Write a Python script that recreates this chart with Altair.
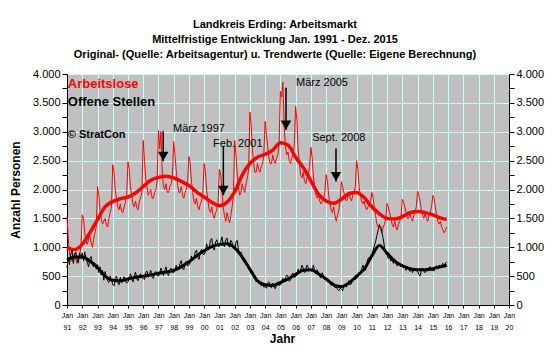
import altair as alt
import pandas as pd

YEARS = list(range(1991, 2016))
MONTHS = list(range(1, 13))

# Arbeitslose, original monthly values (one row per year, Jan..Dec)
AL_ORIG = [
    [1530, 1150, 900, 820, 760, 850, 900, 780, 720, 820, 880, 1000],
    [1560, 1500, 1250, 1100, 1050, 1150, 1200, 1080, 1000, 1150, 1250, 1350],
    [2050, 1900, 1650, 1500, 1400, 1450, 1500, 1380, 1350, 1500, 1600, 1700],
    [2430, 2300, 2000, 1850, 1700, 1650, 1750, 1620, 1600, 1700, 1780, 1900],
    [2480, 2350, 2050, 1900, 1750, 1700, 1800, 1680, 1650, 1800, 1850, 1950],
    [2850, 2500, 2200, 2050, 1900, 1950, 2000, 1850, 1850, 1950, 2000, 2150],
    [3020, 2700, 3000, 2300, 2050, 2000, 2100, 1950, 1950, 2050, 2100, 2250],
    [2830, 2600, 2350, 2100, 1950, 1950, 2050, 1900, 1850, 1950, 2000, 2150],
    [2570, 2450, 2150, 1950, 1800, 1750, 1850, 1700, 1650, 1750, 1800, 1950],
    [2450, 2300, 2000, 1800, 1650, 1600, 1700, 1550, 1500, 1600, 1650, 1800],
    [2350, 2250, 2000, 1700, 1550, 1450, 1600, 1500, 1420, 1550, 1700, 1900],
    [2850, 2600, 2300, 2050, 1900, 1950, 2100, 2000, 1950, 2100, 2200, 2350],
    [3340, 3100, 2700, 2450, 2300, 2300, 2450, 2350, 2300, 2400, 2450, 2600],
    [3180, 2950, 2750, 2550, 2450, 2450, 2600, 2500, 2450, 2550, 2600, 2800],
    [3700, 3600, 3860, 3100, 2750, 2600, 2650, 2500, 2450, 2550, 2600, 2800],
    [3440, 3200, 2700, 2450, 2250, 2200, 2300, 2150, 2100, 2200, 2250, 2400],
    [2730, 2550, 2250, 2050, 1900, 1850, 1900, 1800, 1750, 1800, 1850, 1950],
    [2260, 2150, 1900, 1750, 1650, 1600, 1700, 1550, 1450, 1550, 1650, 1800],
    [2140, 2050, 1950, 1850, 1800, 1850, 1950, 1850, 1800, 1900, 1950, 2050],
    [2500, 2350, 2050, 1900, 1800, 1750, 1800, 1700, 1650, 1700, 1750, 1800],
    [1950, 1850, 1700, 1550, 1400, 1350, 1400, 1300, 1250, 1350, 1400, 1500],
    [1760, 1700, 1600, 1500, 1400, 1350, 1450, 1350, 1300, 1400, 1450, 1550],
    [1830, 1780, 1700, 1600, 1500, 1500, 1600, 1500, 1450, 1550, 1600, 1700],
    [1970, 1900, 1800, 1650, 1550, 1500, 1600, 1500, 1450, 1550, 1600, 1700],
    [1900, 1850, 1700, 1550, 1450, 1400, 1450, 1350, 1300, 1250, 1300, 1350],
]

# Offene Stellen, original monthly values
OS_ORIG = [
    [650, 820, 700, 880, 950, 720, 860, 920, 780, 730, 900, 800],
    [900, 760, 920, 800, 740, 660, 800, 840, 700, 660, 720, 620],
    [700, 560, 660, 520, 600, 430, 580, 470, 420, 390, 500, 430],
    [360, 330, 460, 500, 400, 350, 480, 380, 450, 490, 410, 380],
    [400, 450, 540, 470, 400, 500, 570, 450, 420, 520, 540, 470],
    [460, 440, 560, 590, 480, 540, 600, 490, 460, 560, 580, 510],
    [500, 540, 640, 580, 510, 600, 660, 540, 510, 610, 640, 560],
    [560, 600, 690, 620, 620, 720, 770, 640, 610, 730, 760, 680],
    [690, 740, 850, 770, 800, 920, 950, 830, 790, 920, 960, 880],
    [870, 930, 1060, 950, 980, 1120, 1150, 1000, 950, 1090, 1130, 1010],
    [1020, 1100, 1180, 1060, 1010, 1130, 1160, 1040, 1000, 1120, 1080, 980],
    [960, 1090, 1120, 970, 880, 920, 830, 760, 790, 690, 700, 620],
    [640, 540, 580, 470, 490, 400, 440, 370, 400, 330, 360, 310],
    [320, 290, 380, 400, 320, 300, 380, 310, 280, 370, 400, 340],
    [350, 380, 460, 410, 470, 520, 490, 410, 440, 530, 550, 480],
    [490, 540, 620, 550, 610, 690, 640, 560, 620, 690, 650, 590],
    [600, 580, 690, 610, 540, 610, 560, 490, 470, 560, 490, 440],
    [470, 410, 440, 380, 340, 400, 330, 300, 310, 270, 250, 290],
    [280, 250, 330, 360, 310, 380, 420, 350, 370, 450, 470, 440],
    [460, 480, 570, 540, 620, 690, 640, 600, 720, 800, 830, 800],
    [880, 950, 1020, 1100, 1200, 1300, 1380, 1360, 1250, 1150, 1000, 880],
    [870, 800, 830, 760, 790, 720, 800, 720, 680, 740, 680, 660],
    [700, 640, 660, 600, 670, 620, 580, 640, 560, 620, 640, 590],
    [590, 530, 500, 590, 640, 580, 560, 640, 590, 650, 660, 600],
    [600, 590, 660, 680, 620, 690, 650, 700, 720, 670, 730, 740],
]

# Trend values at January and July of each year, plus Dec 2015
AL_TREND = [990, 960, 1050, 1250, 1480, 1700, 1790, 1840, 1870, 1940,
            2050, 2160, 2210, 2230, 2200, 2140, 2070, 1960, 1870, 1780,
            1720, 1780, 1960, 2250, 2450, 2560, 2610, 2680, 2810, 2770,
            2560, 2380, 2150, 1920, 1800, 1760, 1830, 1930, 1950, 1860,
            1700, 1580, 1500, 1490, 1530, 1600, 1620, 1600, 1560, 1510, 1480]
OS_TREND = [780, 830, 830, 760, 650, 500, 430, 420, 450, 480,
            500, 520, 550, 570, 600, 660, 750, 850, 940, 1010,
            1050, 1060, 990, 830, 620, 420, 350, 340, 390, 450,
            530, 600, 610, 540, 450, 350, 320, 380, 500, 620,
            850, 1030, 900, 760, 680, 630, 610, 610, 630, 660, 690]

ANN_TEXT = ["März 1997", "Feb. 2001", "März 2005", "Sept. 2008"]
ANN_TEXT_DATE = ["1997-12-15T00:00:00", "2000-08-01T00:00:00", "2006-01-10T00:00:00", "2007-02-01T00:00:00"]
ANN_TEXT_VAL = [2990, 2730, 3790, 2835]
ARROW_DATE = ["1997-04-25T00:00:00", "2001-04-05T00:00:00", "2005-05-15T00:00:00", "2008-08-25T00:00:00"]
ARROW_TOP = [3010, 2750, 3760, 2710]
ARROW_TIP = [2490, 1900, 3030, 2140]

LEG_TEXT = ["Arbeitslose", "Offene Stellen", "© StratCon"]
LEG_VAL = [3760, 3440, 2890]
LEG_COLOR = ["#FF0000", "#000000", "#000000"]
LEG_SIZE = [13, 13, 11]

TITLE = ["Landkreis Erding: Arbeitsmarkt",
         "Mittelfristige Entwicklung Jan. 1991 - Dez. 2015",
         "Original- (Quelle: Arbeitsagentur) u. Trendwerte (Quelle: Eigene Berechnung)"]

FONT = "Liberation Sans"

orig_dates = [f"{y}-{m:02d}-01T00:00:00" for y in YEARS for m in MONTHS]
trend_dates = [f"{y}-{m:02d}-01T00:00:00" for y in YEARS for m in (1, 7)] + ["2015-12-01T00:00:00"]

df_al = pd.DataFrame({"date": orig_dates, "value": [v for row in AL_ORIG for v in row]})
df_os = pd.DataFrame({"date": orig_dates, "value": [v for row in OS_ORIG for v in row]})
df_al_t = pd.DataFrame({"date": trend_dates, "value": AL_TREND})
df_os_t = pd.DataFrame({"date": trend_dates, "value": OS_TREND})
df_ann = pd.DataFrame({"date": ANN_TEXT_DATE, "value": ANN_TEXT_VAL, "text": ANN_TEXT})
df_arrow = pd.DataFrame({"date": ARROW_DATE, "top": ARROW_TOP, "tip": ARROW_TIP,
                         "head": [t + 85 for t in ARROW_TIP]})
df_leg = pd.DataFrame({"date": ["1991-01-20T00:00:00"] * 3, "value": LEG_VAL, "text": LEG_TEXT,
                       "color": LEG_COLOR, "size": LEG_SIZE})

x_scale = alt.Scale(domain=[alt.DateTime(year=1991, month=1, date=1),
                            alt.DateTime(year=2020, month=1, date=1)])
x_axis = alt.Axis(
    values=[alt.DateTime(year=y, month=1, date=1) for y in range(1991, 2021)],
    labelExpr="['Jan', timeFormat(datum.value, '%y')]",
    labelFont=FONT, labelFontSize=7, labelColor="#000", labelFlush=False,
    labelLineHeight=12, labelPadding=3, labelAngle=0, labelOverlap=False,
    tickSize=3, tickColor="#000", domainColor="#000",
    grid=True, gridColor="#C8FFFF", gridOpacity=1,
    title="Jahr", titleFont=FONT, titleFontSize=12, titleFontWeight="bold",
    titleColor="#000", titlePadding=3, titleX=215,
)
y_scale = alt.Scale(domain=[0, 4000], nice=False)
label_expr = "datum.value % 500 == 0 ? replace(format(datum.value, ',d'), ',', '.') : ''"
y_axis = alt.Axis(
    values=list(range(0, 4001, 250)), labelExpr=label_expr,
    labelFont=FONT, labelFontSize=11, labelColor="#000", labelPadding=2,
    tickSize=5, tickColor="#000", domainColor="#000",
    grid=True, gridColor="#C8FFFF",
    gridOpacity={"condition": {"test": "datum.value % 500 == 0", "value": 1}, "value": 0},
    title="Anzahl Personen", titleFont=FONT, titleFontSize=12, titleFontWeight="bold",
    titleColor="#000", titlePadding=10,
)
y_axis_right = alt.Axis(
    orient="right", values=list(range(0, 4001, 250)), labelExpr=label_expr,
    labelFont=FONT, labelFontSize=11, labelColor="#000", labelPadding=2,
    tickSize=5, tickColor="#000", domainColor="#000", grid=False, title=None,
)

X = alt.X("date:T", scale=x_scale, axis=x_axis)
Y = alt.Y("value:Q", scale=y_scale, axis=y_axis)

al_orig = alt.Chart(df_al).mark_line(strokeWidth=1, color="#FF0000").encode(x=X, y=Y)
al_trend = alt.Chart(df_al_t).mark_line(strokeWidth=3.5, color="#FF0000",
                                        interpolate="monotone").encode(x=X, y=Y)
os_orig = alt.Chart(df_os).mark_line(strokeWidth=1, color="#000000").encode(x=X, y=Y)
os_trend = alt.Chart(df_os_t).mark_line(strokeWidth=3, color="#000000",
                                        interpolate="monotone").encode(x=X, y=Y)

arrow_line = alt.Chart(df_arrow).mark_rule(color="#000", strokeWidth=1.5).encode(
    x=X, y=alt.Y("top:Q", scale=y_scale, axis=y_axis), y2="tip:Q")
arrow_head = alt.Chart(df_arrow).mark_point(shape="triangle-down", filled=True, color="#000",
                                            opacity=1, size=110).encode(
    x=X, y=alt.Y("head:Q", scale=y_scale, axis=y_axis))
ann = alt.Chart(df_ann).mark_text(align="left", baseline="alphabetic", font=FONT,
                                  fontSize=11, color="#000").encode(
    x=X, y=Y, text="text:N")
leg = alt.Chart(df_leg).mark_text(align="left", baseline="alphabetic", font=FONT,
                                  fontWeight="bold").encode(
    x=X, y=Y, text="text:N",
    color=alt.Color("color:N", scale=None), size=alt.Size("size:Q", scale=None))

left = alt.layer(al_orig, al_trend, os_orig, os_trend, arrow_line, arrow_head, ann, leg)
right = alt.Chart(df_al).mark_point(opacity=0).encode(
    x=X, y=alt.Y("value:Q", scale=y_scale, axis=y_axis_right))

chart = alt.layer(left, right).resolve_scale(y="independent").properties(
    width=442, height=231,
    autosize=alt.AutoSizeParams(type="none"),
    padding={"left": 59, "top": 66, "right": 43, "bottom": 42},
    title=alt.Title(TITLE, font=FONT, fontSize=11, fontWeight="bold", color="#000",
                    anchor="middle", dx=-13, offset=8, lineHeight=15),
    background="white",
).configure_view(fill="#C0C0C0", stroke="#808080")

chart.save("out.html", embed_options={"renderer": "svg", "actions": False})
